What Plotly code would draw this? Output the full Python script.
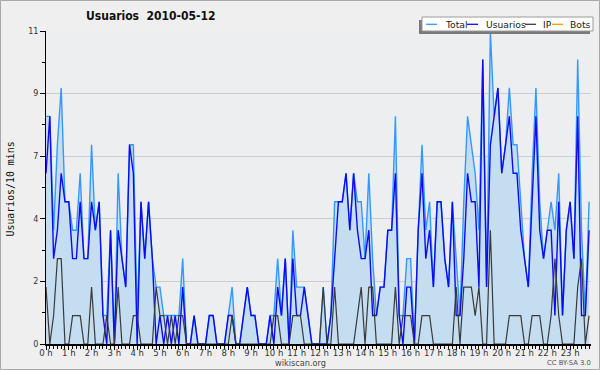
import plotly.graph_objects as go

# ---- data (10-minute slots, 2010-05-12) ----
hour_labels = ["0 h", "1 h", "2 h", "3 h", "4 h", "5 h", "6 h", "7 h", "8 h", "9 h",
               "10 h", "11 h", "12 h", "13 h", "14 h", "15 h", "16 h", "17 h", "18 h",
               "19 h", "20 h", "21 h", "22 h", "23 h"]
hour_slots = [0, 6, 12, 18, 24, 30, 36, 42, 48, 54, 60, 66, 72, 78, 84, 90, 96, 102,
              108, 114, 120, 126, 132, 138]

total = [8, 8, 4, 7, 9, 5, 5, 4, 4, 6,
         3, 3, 7, 4, 5, 1, 1, 4, 0, 6,
         3, 2, 7, 7, 1, 5, 3, 5, 3, 2,
         2, 1, 1, 1, 1, 1, 3, 0, 0, 1,
         0, 0, 0, 1, 1, 0, 0, 0, 1, 2,
         0, 0, 1, 2, 1, 1, 0, 0, 0, 1,
         1, 3, 1, 3, 0, 4, 2, 2, 2, 1,
         0, 0, 0, 2, 0, 1, 5, 5, 5, 6,
         4, 6, 5, 5, 3, 6, 3, 1, 2, 2,
         4, 4, 8, 1, 1, 3, 3, 0, 4, 7,
         4, 5, 2, 5, 5, 3, 2, 5, 3, 1,
         5, 8, 7, 6, 4, 10, 2, 11, 8, 9,
         6, 7, 9, 7, 7, 5, 3, 2, 6, 9,
         5, 3, 4, 5, 4, 6, 1, 4, 5, 3,
         10, 4, 1, 5]

usuarios = [6, 8, 3, 4, 6, 5, 5, 3, 3, 5,
            3, 3, 5, 4, 5, 1, 0, 4, 0, 4,
            3, 2, 7, 6, 0, 5, 3, 5, 3, 0,
            1, 0, 1, 0, 1, 0, 2, 0, 0, 1,
            0, 0, 0, 1, 1, 0, 0, 0, 1, 1,
            0, 0, 1, 2, 1, 1, 0, 0, 0, 1,
            0, 2, 1, 3, 0, 3, 1, 1, 2, 1,
            0, 0, 0, 0, 0, 1, 3, 5, 5, 6,
            4, 6, 4, 3, 3, 4, 1, 1, 2, 2,
            4, 4, 6, 1, 0, 2, 2, 0, 4, 6,
            3, 4, 2, 5, 5, 3, 2, 5, 1, 1,
            3, 6, 5, 5, 2, 10, 2, 7, 8, 9,
            6, 7, 8, 6, 6, 4, 3, 2, 5, 8,
            4, 3, 4, 4, 1, 5, 1, 4, 5, 3,
            8, 1, 1, 4]

ip = [2, 0, 1, 3, 3, 0, 0, 1, 1, 1,
      0, 0, 2, 0, 0, 0, 1, 0, 0, 2,
      0, 0, 0, 1, 1, 0, 0, 0, 0, 2,
      1, 1, 0, 1, 0, 1, 1, 0, 0, 0,
      0, 0, 0, 0, 0, 0, 0, 0, 0, 1,
      0, 0, 0, 0, 0, 0, 0, 0, 0, 0,
      1, 1, 0, 0, 0, 1, 1, 1, 0, 0,
      0, 0, 0, 2, 0, 0, 2, 0, 0, 0,
      0, 0, 1, 2, 0, 2, 2, 0, 0, 0,
      0, 0, 2, 0, 1, 1, 1, 0, 0, 1,
      1, 1, 0, 0, 0, 0, 0, 0, 2, 0,
      2, 2, 2, 1, 2, 0, 0, 4, 0, 0,
      0, 0, 1, 1, 1, 1, 0, 0, 1, 1,
      1, 0, 0, 1, 3, 1, 0, 0, 0, 0,
      2, 3, 0, 1]

bots = [0, 0, 0, 0, 0, 0, 0, 0, 0, 0, 0, 0, 0, 0, 0, 0, 0, 0, 0, 0, 0, 0, 0, 0,
        0, 0, 0, 0, 0, 0, 0, 0, 0, 0, 0, 0, 0, 0, 0, 0, 0, 0, 0, 0, 0, 0, 0, 0,
        0, 0, 0, 0, 0, 0, 0, 0, 0, 0, 0, 0, 0, 0, 0, 0, 0, 0, 0, 0, 0, 0, 0, 0,
        0, 0, 0, 0, 0, 0, 0, 0, 0, 0, 0, 0, 0, 0, 0, 0, 0, 0, 0, 0, 0, 0, 0, 0,
        0, 0, 0, 0, 0, 0, 0, 0, 0, 0, 0, 0, 0, 0, 0, 0, 0, 0, 0, 0, 0, 0, 0, 0,
        0, 0, 0, 0, 0, 0, 0, 0, 0, 0, 0, 0, 0, 0, 0, 0, 0, 0, 0, 0, 0, 0, 0, 0]

slots = list(range(len(total)))

y_tickvals = [0, 2.2, 4.4, 6.6, 8.8, 11]
y_ticktext = ["0", "2", "4", "7", "9", "11"]

# ---- styling ----
W, H = 600, 370
L, R, T, B = 46, 9, 31, 26
PW, PH = W - L - R, H - T - B

C_TOTAL = "#3399ff"
C_FILL = "rgb(197,221,240)"
C_USU = "#0c0cf2"
C_IP = "#3a3a3a"
C_BOTS = "#ff9900"
FONT = "DejaVu Sans"


def px(x):
    return (x - L) / PW


def py(y):
    return (H - B - y) / PH


fig = go.Figure()
fig.add_trace(go.Scatter(x=slots, y=bots, mode="lines", line=dict(color=C_BOTS, width=1.2),
                         name="Bots", showlegend=False, hoverinfo="skip"))
fig.add_trace(go.Scatter(x=slots, y=total, mode="lines", line=dict(color=C_TOTAL, width=1.4),
                         fill="tozeroy", fillcolor=C_FILL, name="Total", showlegend=False))
fig.add_trace(go.Scatter(x=slots, y=usuarios, mode="lines", line=dict(color=C_USU, width=1.4),
                         name="Usuarios", showlegend=False))
fig.add_trace(go.Scatter(x=slots, y=ip, mode="lines", line=dict(color=C_IP, width=1.2),
                         name="IP", showlegend=False))

shapes = []
annotations = []

# outer frame of the image
shapes.append(dict(type="rect", xref="paper", yref="paper",
                   x0=px(0.5), x1=px(599.5), y0=py(0.5), y1=py(369.5),
                   line=dict(color="#a8a8a8", width=1), fillcolor="rgba(0,0,0,0)", layer="below"))

# legend box with shadow
shapes.append(dict(type="rect", xref="paper", yref="paper",
                   x0=px(419), x1=px(590), y0=py(20), y1=py(34),
                   line=dict(width=0), fillcolor="#7a7a7a", layer="above"))
shapes.append(dict(type="rect", xref="paper", yref="paper",
                   x0=px(422), x1=px(593), y0=py(17), y1=py(31),
                   line=dict(color="#9a9a9a", width=1), fillcolor="white", layer="above"))
leg_items = [("Total", C_TOTAL, 426, 443), ("Usuarios", C_USU, 467, 484),
             ("IP", C_IP, 525, 541), ("Bots", C_BOTS, 552, 568)]
for name, col, lx, tx in leg_items:
    shapes.append(dict(type="line", xref="paper", yref="paper",
                       x0=px(lx), x1=px(lx + 11), y0=py(24.3), y1=py(24.3),
                       line=dict(color=col, width=1.3), layer="above"))
    annotations.append(dict(text=name, xref="paper", yref="paper", x=px(tx), y=py(24.3),
                            xanchor="left", yanchor="middle", showarrow=False,
                            font=dict(family=FONT, size=9.2, color="#222")))

# title
annotations.append(dict(text="<b>Usuarios&nbsp; 2010-05-12</b>", xref="paper", yref="paper",
                        x=px(151), y=py(16.5), xanchor="center", yanchor="middle",
                        showarrow=False,
                        font=dict(family="DejaVu Sans Condensed, DejaVu Sans", size=12,
                                  color="#111")))
# y axis title
annotations.append(dict(text="Usuarios/10 mins", xref="paper", yref="paper",
                        x=px(9.5), y=py(189), xanchor="center", yanchor="middle",
                        textangle=-90, showarrow=False,
                        font=dict(family="DejaVu Sans Mono", size=9.9, color="#111")))
# footer
annotations.append(dict(text="wikiscan.org", xref="paper", yref="paper",
                        x=px(300.5), y=py(362.5), xanchor="center", yanchor="middle",
                        showarrow=False, font=dict(family=FONT, size=8.2, color="#444")))
annotations.append(dict(text="CC BY-SA 3.0", xref="paper", yref="paper",
                        x=px(569), y=py(363), xanchor="center", yanchor="middle",
                        showarrow=False, font=dict(family=FONT, size=6.8, color="#555")))

fig.update_layout(
    width=W, height=H,
    margin=dict(l=L, r=R, t=T, b=B, pad=0),
    paper_bgcolor="#efefef",
    plot_bgcolor="#edeef0",
    showlegend=False,
    shapes=shapes,
    annotations=annotations,
    xaxis=dict(range=[0, 143.5], tickmode="array", tickvals=hour_slots, ticktext=hour_labels,
               ticks="outside", ticklen=4, tickwidth=1, tickcolor="black",
               ticklabelstandoff=-4,
               minor=dict(dtick=1, tick0=0, ticks="outside", ticklen=3, tickcolor="black",
                          showgrid=False),
               showline=True, linecolor="black", linewidth=2, showgrid=False, zeroline=False,
               tickfont=dict(family=FONT, size=8.5, color="#333")),
    yaxis=dict(range=[0, 11], tickmode="array", tickvals=y_tickvals, ticktext=y_ticktext,
               ticks="outside", ticklen=5, tickwidth=1, tickcolor="black",
               minor=dict(dtick=1.1, tick0=0, ticks="outside", ticklen=3, tickcolor="black",
                          showgrid=False),
               showline=True, linecolor="black", linewidth=1, showgrid=True,
               gridcolor="#cdcdcd", gridwidth=1, zeroline=False,
               tickfont=dict(family=FONT, size=8, color="#333")),
)

fig.write_html("out.html", config={"displayModeBar": False},
               post_script="document.body.style.margin='0';document.body.style.overflow='hidden';")
